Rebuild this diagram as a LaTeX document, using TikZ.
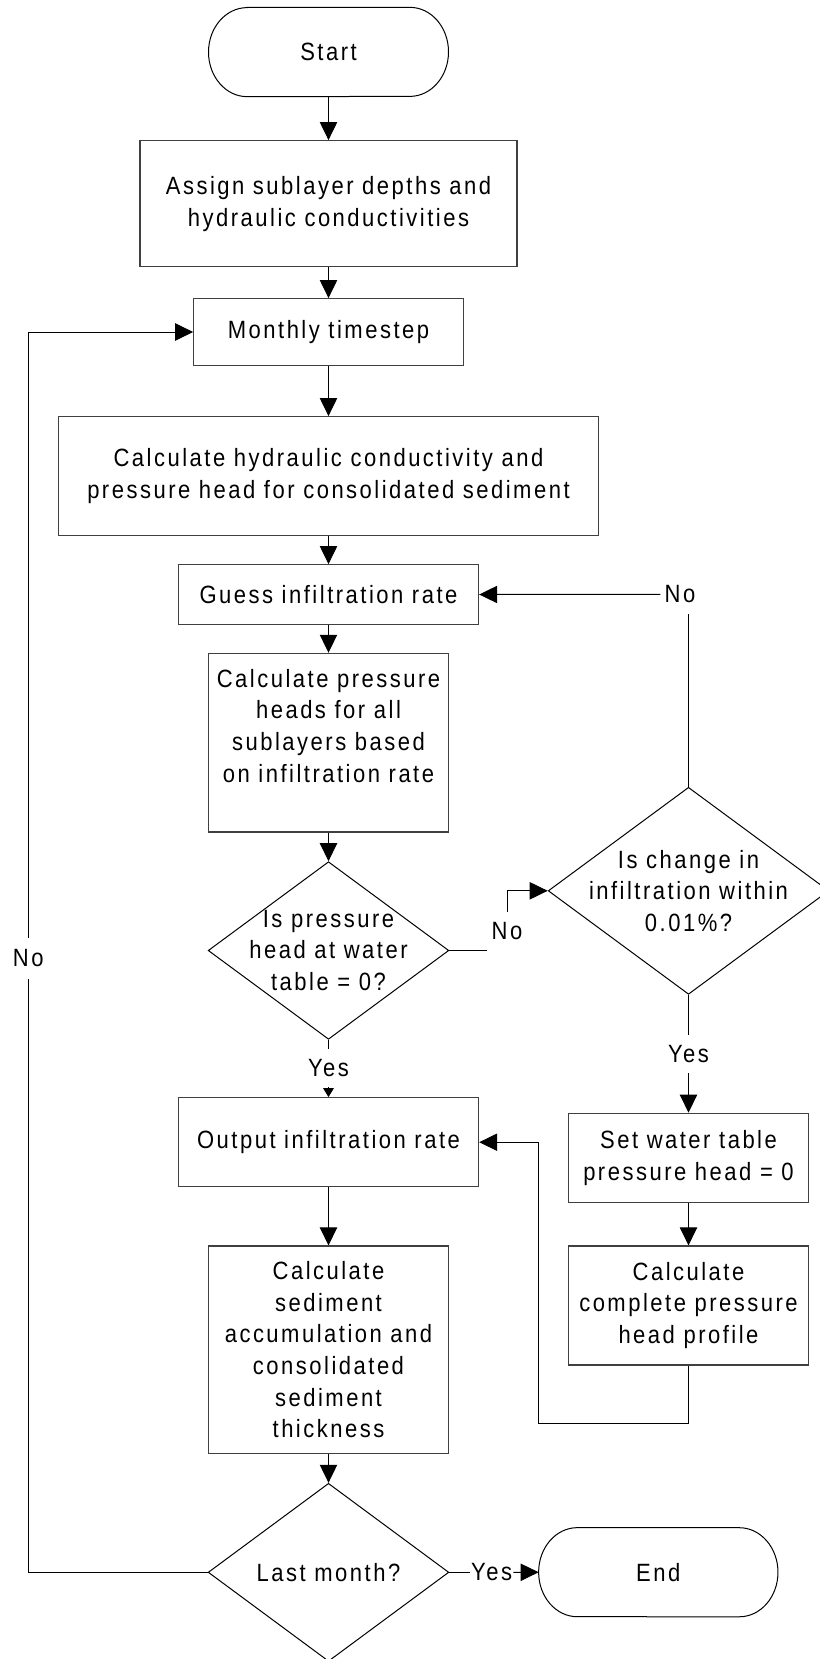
\documentclass[tikz,border=0pt]{standalone}
\usepackage{fontspec}
\setmainfont{Liberation Sans}[FakeStretch=0.88, LetterSpace=10]
\usetikzlibrary{shapes.geometric,arrows.meta}

% terminal outline (rounded ends) around a rectangle node
\newcommand\termoutline[1]{%
  \draw[line width=0.75pt]
    ([xshift=29pt]#1.north west) -- ([xshift=-29pt]#1.north east)
    arc[start angle=90, end angle=-90, x radius=29pt, y radius=33.4pt]
    -- ([xshift=29pt]#1.south west)
    arc[start angle=270, end angle=90, x radius=29pt, y radius=33.4pt]
    -- cycle;}

\begin{document}
\begin{tikzpicture}[x=0.75pt,y=-0.75pt,
  every node/.append style={font=\fontsize{18.75pt}{23.8pt}\selectfont, text=black},
  box/.style={rectangle, draw=black!75, line width=0.9pt, inner sep=0pt, align=center},
  dia/.style={diamond, draw=black, line width=0.75pt, inner sep=0pt},
  term/.style={rectangle, inner sep=0pt, outer sep=0pt},
  txt/.style={inner sep=0pt, align=center},
  lbl/.style={inner ysep=0pt, inner xsep=3pt, minimum height=28.5pt},
  conn/.style={line width=0.75pt, draw=black},
  arr/.style={conn, -{Triangle[length=13.5pt,width=13pt]}},
  sarr/.style={conn, -{Triangle[length=6.75pt,width=8pt]}},
]
\fill[white] (0,0) rectangle (820,1659);
\useasboundingbox (0,0) rectangle (820,1659);

% main column
\node[term, minimum width=180pt, minimum height=67pt] (st) at (328.5,52) {Start};
\termoutline{st}
\node[box, minimum width=282.75pt, minimum height=94.5pt] (as) at (328.5,203.7)
  {Assign sublayer depths and\\hydraulic conductivities};
\node[box, minimum width=202.1pt, minimum height=49.95pt] (mt) at (328.5,332) {Monthly timestep};
\node[box, minimum width=405pt, minimum height=88.95pt] (ch) at (328.5,476)
  {Calculate hydraulic conductivity and\\pressure head for consolidated sediment};
\node[box, minimum width=225.15pt, minimum height=44.7pt] (gu) at (328.5,594.5) {Guess infiltration rate};
\node[box, minimum width=180.5pt, minimum height=134pt] (pb) at (328.5,742.7) {};
\node[txt] (pbt) at (328.5,725.7)
  {Calculate pressure\\heads for all\\sublayers based\\on infiltration rate};
\node[dia, minimum width=180.5pt, minimum height=133.2pt] (d1) at (328.5,950.5) {};
\node[txt] (d1t) at (d1.center) {Is pressure\\head at water\\table = 0?};
\node[box, minimum width=225.15pt, minimum height=66.75pt] (ou) at (328.5,1142.2) {Output infiltration rate};
\node[box, minimum width=180.5pt, minimum height=155.5pt] (sd) at (328.5,1349.7)
  {Calculate\\sediment\\accumulation and\\consolidated\\sediment\\thickness};
\node[dia, minimum width=180.5pt, minimum height=133.5pt] (d3) at (328.5,1572.3) {};
\node[txt] (d3t) at (d3.center) {Last month?};

% right column
\node[dia, minimum width=210.45pt, minimum height=155.25pt] (d2) at (688.5,890.8) {};
\node[txt] (d2t) at (d2.center) {Is change in\\infiltration within\\0.01\%?};
\node[box, minimum width=180.1pt, minimum height=66.75pt] (sw) at (688.5,1157.8)
  {Set water table\\pressure head = 0};
\node[box, minimum width=180.1pt, minimum height=89.25pt] (cc) at (688.5,1305.5)
  {Calculate\\complete pressure\\head profile};
\node[term, minimum width=179.5pt, minimum height=66.75pt] (en) at (658.3,1572.2) {End};
\termoutline{en}

% connector labels
\node[lbl] (yes1) at (328.5,1068) {Yes};
\node[lbl] (yes2) at (688.5,1054) {Yes};
\node[lbl, inner xsep=0.75pt] (yes3) at (491.6,1572.3) {Yes};
\node[lbl] (no1) at (507,931) {No};
\node[lbl] (no2) at (680,594.3) {No};
\node[lbl, minimum height=30pt] (no0) at (28.2,958.3) {No};
\coordinate (ret) at (538.7,1423.3);

% connectors
\draw[arr] (st.south) -- (as.north);
\draw[arr] (as.south) -- (mt.north);
\draw[arr] (mt.south) -- (ch.north);
\draw[arr] (ch.south) -- (gu.north);
\draw[arr] (gu.south) -- (pb.north);
\draw[arr] (pb.south) -- (d1.north);
\draw[conn] (d1.south) -- (yes1.north);
\draw[sarr] (yes1.south) -- (ou.north);
\draw[arr] (ou.south) -- (sd.north);
\draw[arr] (sd.south) -- (d3.north);

\draw[conn] (d1.east) -- (no1.west |- d1.east);
\draw[arr] (no1.north) |- (d2.west);
\draw[conn] (d2.north) -- (d2.north |- no2.south);
\draw[arr] (no2.west) -- (gu.east);
\draw[conn] (d2.south) -- (yes2.north);
\draw[arr] (yes2.south) -- (sw.north);
\draw[arr] (sw.south) -- (cc.north);
\draw[arr] (cc.south) |- (ret) |- (ou.east);

\draw[conn] (d3.east) -- (yes3.west);
\draw[arr] (yes3.east) -- (en.west);
\draw[conn] (d3.west) -| (no0.south);
\draw[arr] (no0.north) |- (mt.west);
\end{tikzpicture}
\end{document}
